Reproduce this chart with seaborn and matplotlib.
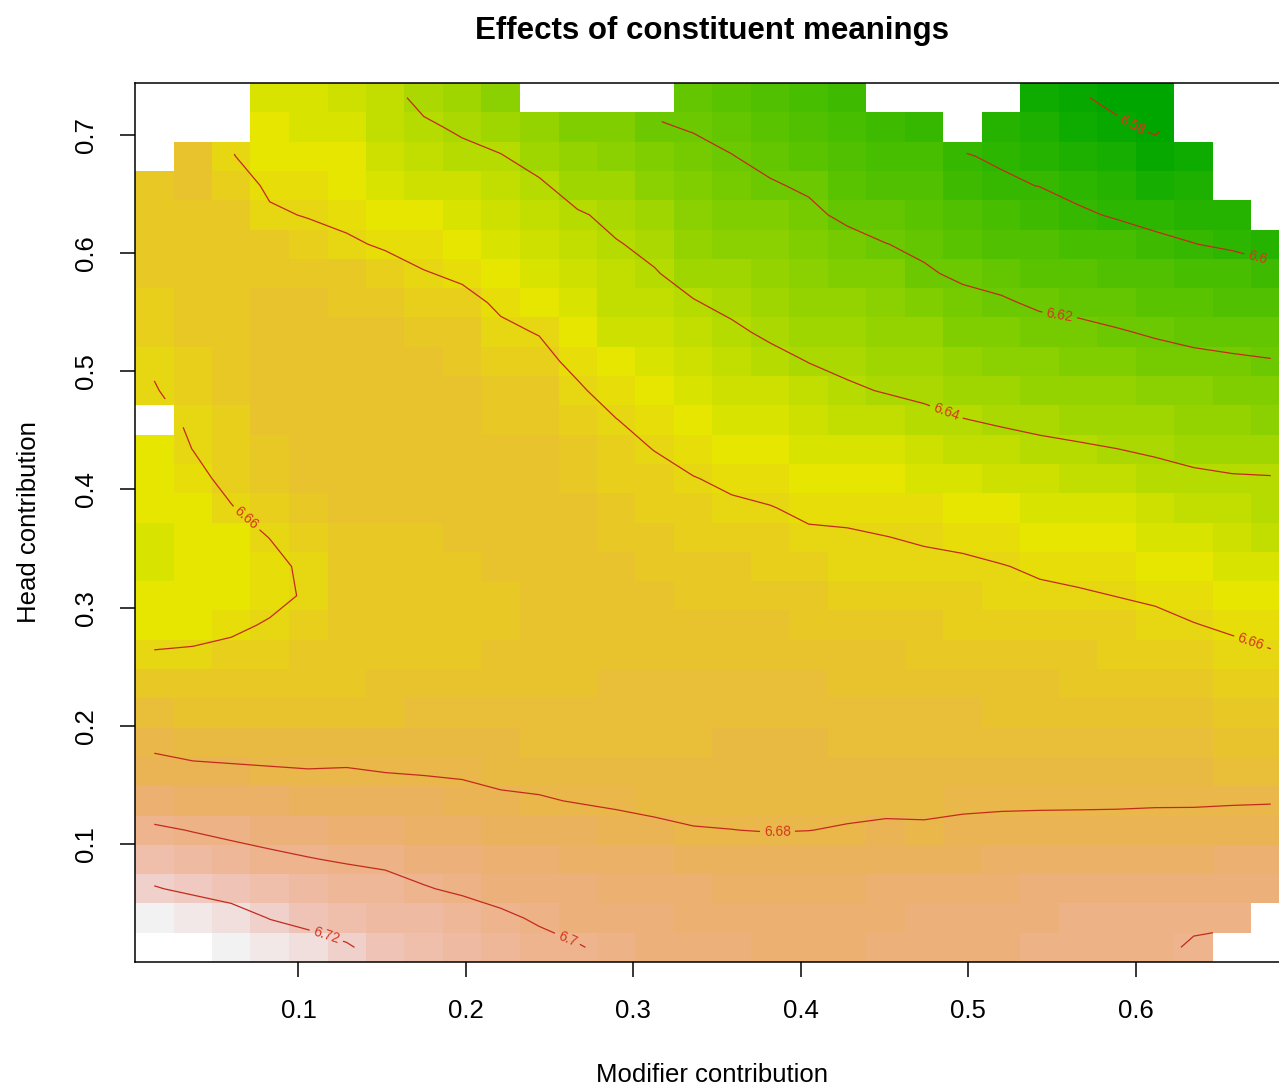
import numpy as np
import pandas as pd
import matplotlib
matplotlib.use("Agg")
import matplotlib.pyplot as plt
from matplotlib.colors import ListedColormap, hsv_to_rgb
import seaborn as sns

nan = np.nan

# Prediction grid (30 x 30), as used for the fitted surface
modifier = np.linspace(0.0139, 0.6806, 30)
head = np.linspace(0.0126, 0.7315, 30)

# Fitted response; one list per modifier value, ordered from lowest to highest head value
fitted_by_modifier = [
    [nan, 6.733, 6.721, 6.711, 6.702, 6.692, 6.6825, 6.6785, 6.6735, 6.668,
     6.661, 6.6545, 6.653, 6.6525, 6.6525, 6.653, 6.654, 6.6555, nan, 6.6594,
     6.6612, 6.663, 6.6645, 6.6655, 6.666, 6.6665, 6.667, nan, nan, nan],
    [nan, 6.731, 6.717, 6.7075, 6.6995, 6.6905, 6.682, 6.6765, 6.6715, 6.667,
     6.6615, 6.656, 6.6538, 6.6535, 6.654, 6.655, 6.657, 6.6601, 6.6615, 6.664,
     6.6652, 6.666, 6.667, 6.6675, 6.668, 6.6685, 6.669, 6.669, nan, nan],
    [6.735, 6.727, 6.713, 6.7045, 6.6975, 6.689, 6.6815, 6.676, 6.671, 6.6665,
     6.6628, 6.658, 6.655, 6.6545, 6.656, 6.6595, 6.663, 6.664, 6.665, 6.666,
     6.667, 6.6675, 6.668, 6.6685, 6.6685, 6.6675, 6.6645, 6.6605, nan, nan],
    [6.731, 6.7195, 6.7105, 6.7025, 6.6955, 6.6885, 6.681, 6.6755, 6.671, 6.6675,
     6.665, 6.661, 6.657, 6.657, 6.6602, 6.665, 6.667, 6.668, 6.669, 6.6695,
     6.670, 6.670, 6.6695, 6.6685, 6.6655, 6.6612, 6.6585, 6.656, 6.654, 6.652],
    [6.726, 6.716, 6.7085, 6.7005, 6.6945, 6.6875, 6.6805, 6.675, 6.671, 6.668,
     6.666, 6.6635, 6.6613, 6.6623, 6.665, 6.668, 6.6695, 6.6705, 6.671, 6.671,
     6.671, 6.6705, 6.6695, 6.6675, 6.6635, 6.6595, 6.657, 6.6545, 6.6525, 6.651],
    [6.7215, 6.7125, 6.7055, 6.699, 6.6935, 6.6865, 6.6808, 6.675, 6.671, 6.6685,
     6.667, 6.666, 6.6655, 6.6665, 6.668, 6.6695, 6.6705, 6.671, 6.6715, 6.6715,
     6.671, 6.670, 6.6685, 6.6655, 6.6612, 6.658, 6.6555, 6.653, 6.651, 6.6495],
    [6.714, 6.7095, 6.7035, 6.698, 6.692, 6.6855, 6.6798, 6.675, 6.6715, 6.669,
     6.6675, 6.667, 6.667, 6.6675, 6.6685, 6.6695, 6.6705, 6.671, 6.671, 6.671,
     6.6705, 6.6695, 6.668, 6.6635, 6.659, 6.6555, 6.6525, 6.6495, 6.6465, 6.6435],
    [6.711, 6.707, 6.7006, 6.6963, 6.6905, 6.6845, 6.6793, 6.6755, 6.672, 6.6695,
     6.668, 6.6675, 6.6675, 6.668, 6.6685, 6.6695, 6.670, 6.6705, 6.6705, 6.670,
     6.669, 6.6675, 6.6645, 6.6605, 6.6565, 6.653, 6.6495, 6.646, 6.6415, 6.6373],
    [6.708, 6.7045, 6.6986, 6.6945, 6.689, 6.6832, 6.6788, 6.6755, 6.6725, 6.670,
     6.6685, 6.668, 6.668, 6.6685, 6.669, 6.6695, 6.670, 6.670, 6.6695, 6.669,
     6.6675, 6.6655, 6.6625, 6.6585, 6.6545, 6.651, 6.647, 6.6425, 6.6385, 6.634],
    [6.705, 6.7015, 6.697, 6.693, 6.6875, 6.6815, 6.6775, 6.675, 6.6725, 6.6705,
     6.669, 6.6685, 6.6685, 6.669, 6.6695, 6.670, 6.670, 6.6695, 6.6685, 6.667,
     6.665, 6.6615, 6.6587, 6.655, 6.6515, 6.648, 6.6445, 6.6405, 6.635, 6.6305],
    [6.7025, 6.699, 6.6955, 6.692, 6.687, 6.6808, 6.677, 6.6745, 6.6725, 6.671,
     6.6695, 6.669, 6.669, 6.6695, 6.670, 6.670, 6.6695, 6.669, 6.6675, 6.6655,
     6.6625, 6.6596, 6.656, 6.6525, 6.649, 6.6455, 6.6415, 6.636, 6.6315, nan],
    [6.7005, 6.697, 6.694, 6.6905, 6.6855, 6.6795, 6.6765, 6.6745, 6.6728, 6.6715,
     6.670, 6.6695, 6.6695, 6.6695, 6.6695, 6.669, 6.668, 6.6665, 6.6645, 6.6612,
     6.6578, 6.6545, 6.651, 6.6475, 6.644, 6.641, 6.6355, 6.631, 6.627, nan],
    [6.698, 6.695, 6.693, 6.6895, 6.6835, 6.6785, 6.676, 6.6745, 6.673, 6.672,
     6.6705, 6.670, 6.6695, 6.669, 6.668, 6.6665, 6.6645, 6.6625, 6.6602, 6.6564,
     6.653, 6.6495, 6.6465, 6.6435, 6.6405, 6.6377, 6.634, 6.6295, 6.6245, nan],
    [6.696, 6.694, 6.692, 6.6885, 6.682, 6.6775, 6.6755, 6.674, 6.673, 6.672,
     6.671, 6.6702, 6.6693, 6.668, 6.6665, 6.6645, 6.6625, 6.6598, 6.6565, 6.653,
     6.650, 6.647, 6.6435, 6.6405, 6.638, 6.634, 6.630, 6.6255, 6.621, nan],
    [6.695, 6.693, 6.691, 6.6875, 6.6805, 6.677, 6.6755, 6.6745, 6.6735, 6.6725,
     6.6715, 6.670, 6.6685, 6.667, 6.665, 6.663, 6.6603, 6.657, 6.6535, 6.650,
     6.647, 6.6435, 6.6405, 6.637, 6.6335, 6.630, 6.6265, 6.623, 6.6192, 6.6155],
    [6.694, 6.692, 6.690, 6.6865, 6.6801, 6.677, 6.6758, 6.675, 6.674, 6.673,
     6.6715, 6.6695, 6.668, 6.666, 6.6638, 6.6612, 6.6585, 6.655, 6.652, 6.6485,
     6.6455, 6.6415, 6.638, 6.6345, 6.6305, 6.627, 6.6235, 6.6203, 6.6165, 6.613],
    [6.693, 6.692, 6.690, 6.6855, 6.6796, 6.677, 6.676, 6.675, 6.674, 6.6725,
     6.671, 6.669, 6.667, 6.6648, 6.6625, 6.6603, 6.657, 6.654, 6.651, 6.6475,
     6.6425, 6.6385, 6.635, 6.6315, 6.628, 6.6245, 6.621, 6.617, 6.6135, 6.610],
    [6.693, 6.692, 6.690, 6.6853, 6.6799, 6.677, 6.676, 6.675, 6.6735, 6.672,
     6.670, 6.668, 6.6655, 6.6635, 6.6612, 6.6585, 6.6555, 6.6525, 6.649, 6.6435,
     6.6398, 6.6362, 6.633, 6.6295, 6.626, 6.6223, 6.6185, 6.6145, 6.611, 6.6075],
    [6.693, 6.692, 6.690, 6.686, 6.6807, 6.6775, 6.676, 6.6748, 6.673, 6.6712,
     6.669, 6.6668, 6.6645, 6.6622, 6.6607, 6.6585, 6.655, 6.651, 6.6455, 6.6412,
     6.638, 6.6345, 6.631, 6.6275, 6.6237, 6.6177, 6.6145, 6.611, 6.6075, 6.604],
    [6.694, 6.693, 6.691, 6.6865, 6.6813, 6.678, 6.6763, 6.6748, 6.673, 6.671,
     6.6687, 6.6665, 6.6643, 6.662, 6.6601, 6.6575, 6.654, 6.650, 6.6445, 6.6395,
     6.636, 6.6325, 6.629, 6.6248, 6.6202, 6.615, 6.6115, 6.608, 6.6045, nan],
    [6.695, 6.694, 6.692, 6.687, 6.6812, 6.6778, 6.6765, 6.6748, 6.6728, 6.6705,
     6.6683, 6.666, 6.6637, 6.6615, 6.6593, 6.6565, 6.6525, 6.648, 6.6425, 6.638,
     6.6345, 6.631, 6.6268, 6.6212, 6.618, 6.6135, 6.6095, 6.6055, 6.602, nan],
    [6.696, 6.695, 6.693, 6.6875, 6.6818, 6.6785, 6.6765, 6.6745, 6.6723, 6.670,
     6.6678, 6.6653, 6.663, 6.6612, 6.6585, 6.6555, 6.6515, 6.6465, 6.6403, 6.6355,
     6.6315, 6.6275, 6.623, 6.6182, 6.6135, 6.609, 6.605, 6.6005, nan, nan],
    [6.697, 6.696, 6.693, 6.688, 6.6823, 6.6787, 6.6765, 6.674, 6.6717, 6.6693,
     6.667, 6.6645, 6.662, 6.6603, 6.657, 6.6535, 6.649, 6.6438, 6.6388, 6.6345,
     6.6305, 6.6262, 6.6212, 6.6165, 6.6115, 6.6062, 6.6012, 6.599, 6.5955, nan],
    [6.698, 6.697, 6.694, 6.6885, 6.6825, 6.6788, 6.6763, 6.6738, 6.6712, 6.6688,
     6.6663, 6.6638, 6.6613, 6.659, 6.6557, 6.652, 6.6475, 6.6423, 6.6375, 6.633,
     6.6288, 6.6235, 6.6185, 6.614, 6.6093, 6.6045, 6.5998, 6.595, 6.5905, 6.5855],
    [6.699, 6.698, 6.695, 6.689, 6.6827, 6.6788, 6.676, 6.6735, 6.6708, 6.6682,
     6.6657, 6.6632, 6.6608, 6.658, 6.6548, 6.651, 6.6463, 6.6412, 6.6365, 6.632,
     6.6275, 6.6223, 6.6175, 6.6128, 6.608, 6.6018, 6.5965, 6.591, 6.5858, 6.5805],
    [6.699, 6.699, 6.695, 6.6895, 6.683, 6.6788, 6.6758, 6.673, 6.6703, 6.6677,
     6.6652, 6.6627, 6.6599, 6.657, 6.6537, 6.6498, 6.645, 6.6401, 6.6355, 6.631,
     6.6262, 6.6207, 6.616, 6.6113, 6.6065, 6.5988, 6.594, 6.5888, 6.5808, 6.5788],
    [6.699, 6.6995, 6.6955, 6.690, 6.6833, 6.679, 6.6755, 6.6725, 6.6698, 6.667,
     6.6645, 6.6618, 6.659, 6.6558, 6.6525, 6.6485, 6.6432, 6.6388, 6.6345, 6.6298,
     6.6235, 6.619, 6.6145, 6.6098, 6.6023, 6.597, 6.5895, 6.582, 6.5792, 6.577],
    [6.7005, 6.6992, 6.696, 6.6905, 6.6835, 6.679, 6.675, 6.672, 6.669, 6.666,
     6.6632, 6.6603, 6.657, 6.6538, 6.6505, 6.6465, 6.6418, 6.637, 6.6325, 6.628,
     6.6222, 6.6175, 6.6128, 6.6075, 6.6002, 6.5955, 6.5905, 6.5855, nan, nan],
    [nan, 6.6995, 6.696, 6.691, 6.6838, 6.6793, 6.6748, 6.6715, 6.6683, 6.6652,
     6.6622, 6.6588, 6.6553, 6.652, 6.6485, 6.6445, 6.6408, 6.636, 6.6313, 6.6265,
     6.6213, 6.6165, 6.6115, 6.6063, 6.5982, 6.593, nan, nan, nan, nan],
    [nan, nan, 6.696, 6.6915, 6.684, 6.6795, 6.6748, 6.671, 6.6675, 6.6642,
     6.6607, 6.657, 6.6535, 6.650, 6.6465, 6.6425, 6.6405, 6.6355, 6.6305, 6.6255,
     6.6205, 6.6155, 6.6105, 6.6042, 6.5945, nan, nan, nan, nan, nan],
]

contour_levels = [6.58, 6.60, 6.62, 6.64, 6.66, 6.68, 6.70, 6.72]
# (modifier, head) spots where the level labels sit on their lines
label_spots = [
    (0.599, 0.711), (0.672, 0.5925), (0.5546, 0.5477), (0.486, 0.4622),
    (0.068, 0.3742), (0.668, 0.2684), (0.386, 0.1118), (0.2603, 0.0188),
    (0.1158, 0.0188),
]
x_ticks = [0.1, 0.2, 0.3, 0.4, 0.5, 0.6]
y_ticks = [0.1, 0.2, 0.3, 0.4, 0.5, 0.6, 0.7]


def terrain_palette(n):
    """R-style terrain palette: green -> yellow -> near white."""
    k = n // 2
    h = np.concatenate([np.linspace(4 / 12, 2 / 12, k),
                        np.linspace(2 / 12, 0, n - k + 1)[1:]])
    s = np.concatenate([np.linspace(1, 1, k), np.linspace(1, 0, n - k + 1)[1:]])
    v = np.concatenate([np.linspace(0.65, 0.9, k),
                        np.linspace(0.9, 0.95, n - k + 1)[1:]])
    return ListedColormap(hsv_to_rgb(np.column_stack([h, s, v])))


sns.set_theme(style="ticks")
plt.rcParams["font.family"] = ["Liberation Sans", "DejaVu Sans"]

Z = np.array(fitted_by_modifier).T          # rows follow head, columns follow modifier
Z_top_down = Z[::-1]
grid = pd.DataFrame(Z_top_down, index=np.round(head[::-1], 4), columns=np.round(modifier, 4))

idx = np.arange(len(modifier))


def col_pos(m):
    return np.interp(m, modifier, idx) + 0.5


def row_pos(hv):
    return (len(head) - 1) - np.interp(hv, head, idx) + 0.5


fig = plt.figure(figsize=(12.79, 10.87), dpi=100)
ax = fig.add_axes([135 / 1279, 125 / 1087, 1155 / 1279, 879 / 1087])

sns.heatmap(grid, cmap=terrain_palette(50), vmin=np.nanmin(Z), vmax=np.nanmax(Z),
            cbar=False, xticklabels=False, yticklabels=False, linewidths=0, ax=ax)

cx = idx + 0.5
cy = idx + 0.5
cs = ax.contour(cx, cy, np.ma.masked_invalid(Z_top_down), levels=contour_levels,
                colors="#C42A1C", linewidths=0.9)
spots = [(col_pos(m), row_pos(hv)) for m, hv in label_spots]
ax.clabel(cs, manual=spots, inline=True, inline_spacing=4, fontsize=10,
          fmt="%g", colors="#D8361E")

for sp in ax.spines.values():
    sp.set_visible(True)
    sp.set_color("black")
    sp.set_linewidth(1.1)

ax.set_xticks([col_pos(v) for v in x_ticks])
ax.set_xticklabels([f"{v:g}" for v in x_ticks])
ax.set_yticks([row_pos(v) for v in y_ticks])
ax.set_yticklabels([f"{v:g}" for v in y_ticks], rotation=90, va="center")
ax.tick_params(axis="both", which="major", direction="out", length=11, width=1.1,
               color="black", labelcolor="black", labelsize=18.5,
               bottom=True, left=True, top=False, right=False)
ax.tick_params(axis="x", pad=16)
ax.tick_params(axis="y", pad=16)

ax.set_xlabel("Modifier contribution", fontsize=18.5, color="black")
ax.xaxis.set_label_coords(0.5, -0.115)
ax.set_ylabel("Head contribution", fontsize=18.5, color="black")
ax.yaxis.set_label_coords(-0.081, 0.5)
ax.set_title("Effects of constituent meanings", fontsize=22.5, fontweight="bold",
             color="black", pad=32)

fig.savefig("out.png", dpi=100, facecolor="white")
